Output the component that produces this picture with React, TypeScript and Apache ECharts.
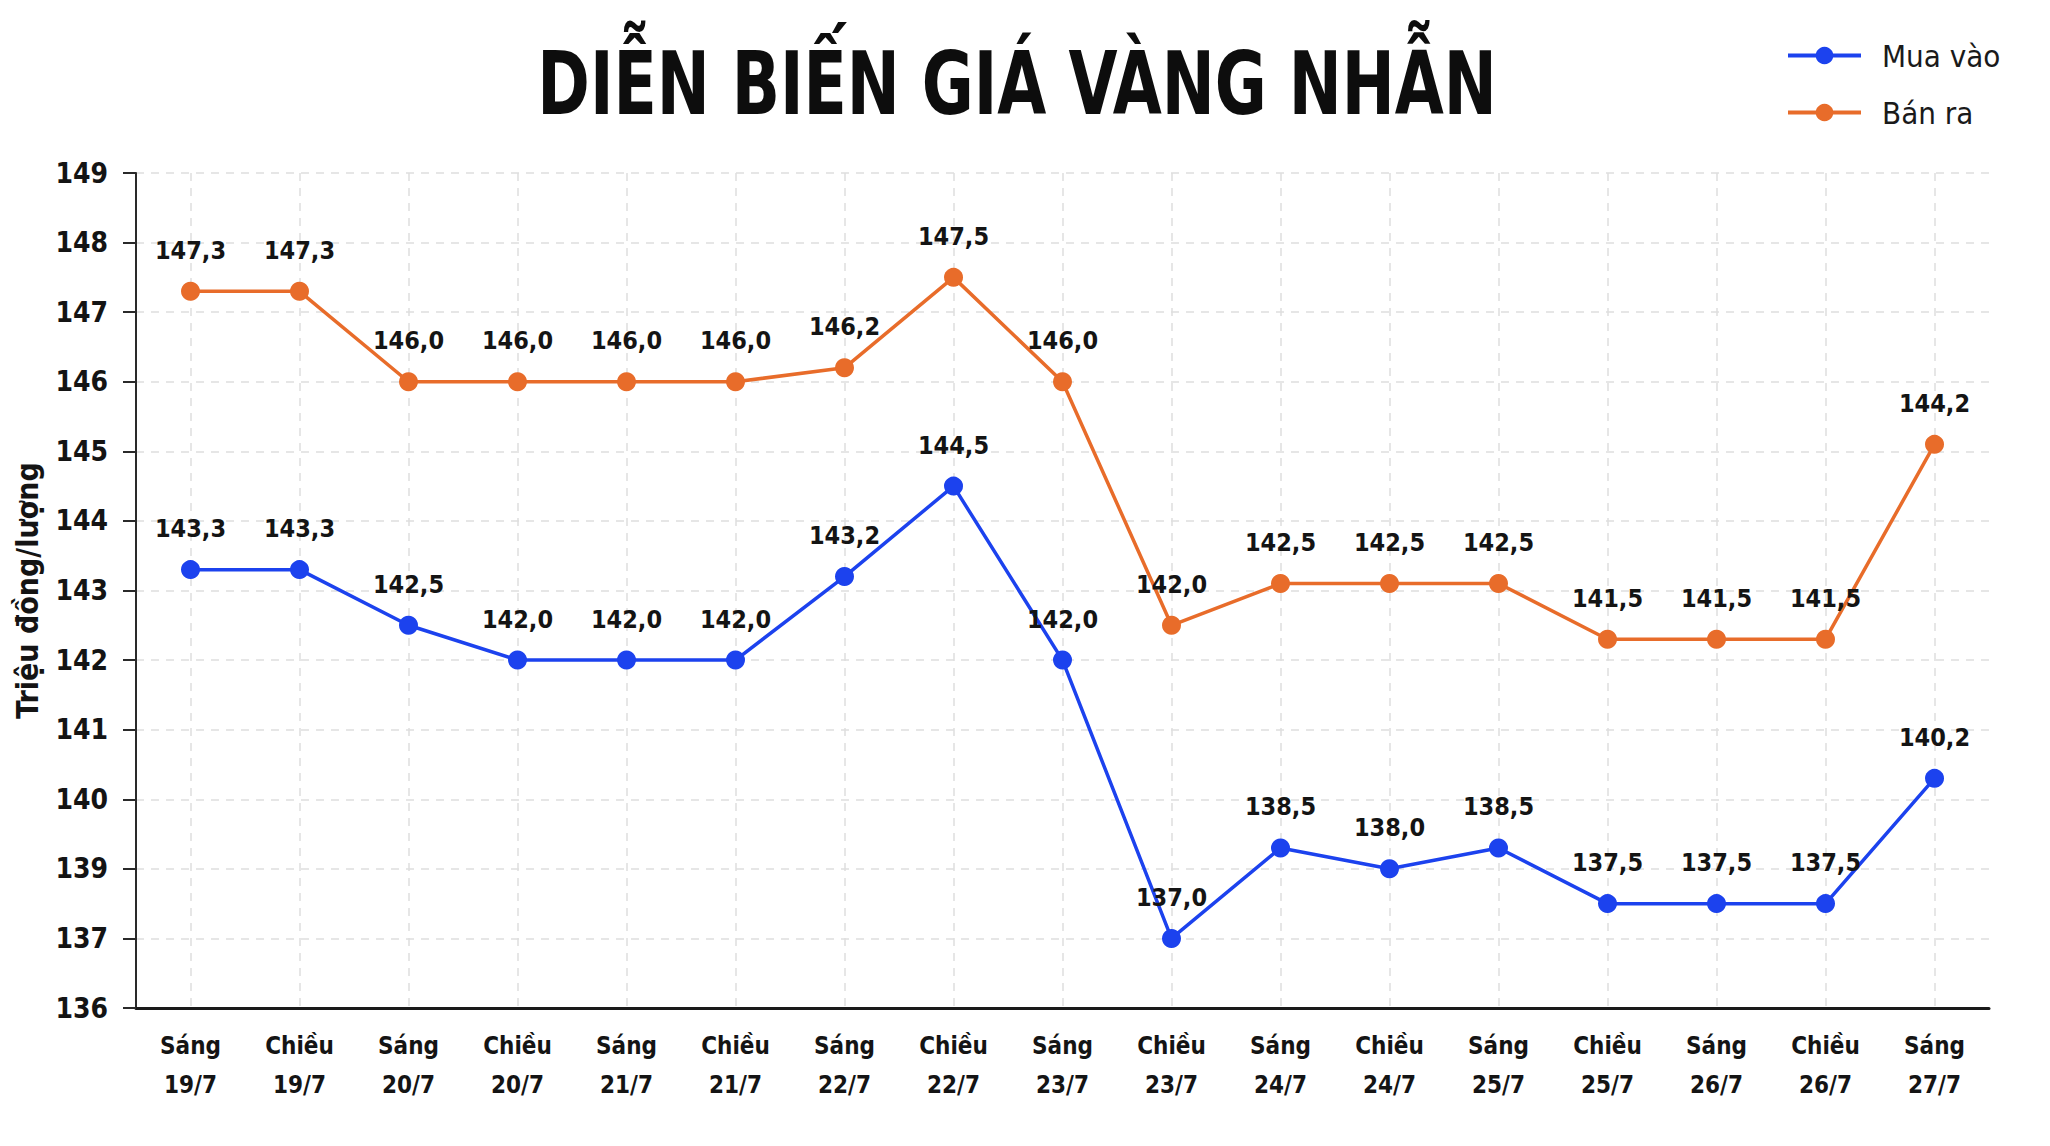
import React, { useEffect, useRef } from "react";
import * as echarts from "echarts";

// ---- Data ----
const categories = [
  "Sáng\n19/7", "Chiều\n19/7", "Sáng\n20/7", "Chiều\n20/7", "Sáng\n21/7", "Chiều\n21/7",
  "Sáng\n22/7", "Chiều\n22/7", "Sáng\n23/7", "Chiều\n23/7", "Sáng\n24/7", "Chiều\n24/7",
  "Sáng\n25/7", "Chiều\n25/7", "Sáng\n26/7", "Chiều\n26/7", "Sáng\n27/7",
];

// Tick labels as printed on the reference's y axis (bottom to top; note it skips 138)
const yTickLabels = ["136", "137", "139", "140", "141", "142", "143", "144", "145", "146", "147", "148", "149"];
const yAxisMin = 137;
const yAxisMax = 149;

// Printed values (data labels)
const muaVaoLabel = [143.3, 143.3, 142.5, 142.0, 142.0, 142.0, 143.2, 144.5, 142.0, 137.0, 138.5, 138.0, 138.5, 137.5, 137.5, 137.5, 140.2];
const banRaLabel = [147.3, 147.3, 146.0, 146.0, 146.0, 146.0, 146.2, 147.5, 146.0, 142.0, 142.5, 142.5, 142.5, 141.5, 141.5, 141.5, 144.2];

// Point heights as read against the y axis of the reference
const muaVaoPlot = [143.3, 143.3, 142.5, 142.0, 142.0, 142.0, 143.2, 144.5, 142.0, 138.0, 139.3, 139.0, 139.3, 138.5, 138.5, 138.5, 140.3];
const banRaPlot = [147.3, 147.3, 146.0, 146.0, 146.0, 146.0, 146.2, 147.5, 146.0, 142.5, 143.1, 143.1, 143.1, 142.3, 142.3, 142.3, 145.1];

const seriesNames = ["Mua vào", "Bán ra"];
const titleText = "DIỄN BIẾN GIÁ VÀNG NHẪN";
const yAxisName = "Triệu đồng/lượng";

const FONT = '"DejaVu Sans Condensed", "Liberation Sans Narrow", "Arial Narrow", sans-serif';
const BLUE = "#1c42ee";
const ORANGE = "#e86c2a";
const INK = "#141414";

const fmt = (v: number) => v.toFixed(1).replace(".", ",");

export default function App() {
  const ref = useRef<HTMLDivElement>(null);

  useEffect(() => {
    if (!ref.current) return;
    const chart = echarts.init(ref.current, null, { renderer: "svg" });

    const labelStyle = (arr: number[]) => ({
      show: true,
      position: "top" as const,
      distance: 19,
      fontFamily: FONT,
      fontWeight: "bold" as const,
      fontSize: 25,
      color: INK,
      formatter: (p: any) => fmt(arr[p.dataIndex]),
    });

    chart.setOption({
      animation: false,
      backgroundColor: "#ffffff",
      graphic: [
        {
          type: "text",
          x: 1017,
          y: 84,
          scaleX: 0.8,
          scaleY: 1,
          style: {
            text: titleText,
            font: `bold 88px ${FONT}`,
            fill: "#0d0d0d",
            textAlign: "center",
            textVerticalAlign: "middle",
          },
        },
      ],
      legend: {
        orient: "vertical",
        left: 1781,
        top: 35,
        itemWidth: 73,
        itemHeight: 22,
        itemGap: 26,
        data: seriesNames,
        lineStyle: { width: 4 },
        textStyle: {
          fontFamily: FONT,
          fontSize: 31,
          color: "#1a1a1a",
          padding: [0, 0, 0, 16],
        },
      },
      grid: {
        left: 136,
        right: 61,
        top: 173,
        bottom: 138,
        containLabel: false,
      },
      xAxis: {
        type: "category",
        data: categories,
        boundaryGap: true,
        axisLine: { show: true, lineStyle: { color: "#1a1a1a", width: 3 } },
        axisTick: { show: false },
        axisLabel: {
          interval: 0,
          margin: 18,
          fontFamily: FONT,
          fontWeight: "bold",
          fontSize: 24,
          lineHeight: 39,
          color: INK,
        },
        splitLine: {
          show: true,
          alignWithLabel: true,
          lineStyle: { color: "#dedede", type: [8, 7], width: 1.5 },
        },
      },
      yAxis: {
        type: "value",
        min: yAxisMin,
        max: yAxisMax,
        interval: 1,
        name: yAxisName,
        nameLocation: "middle",
        nameRotate: 90,
        nameGap: 94,
        nameTextStyle: {
          fontFamily: FONT,
          fontWeight: "bold",
          fontSize: 30,
          color: INK,
        },
        axisLine: { show: true, lineStyle: { color: "#2a2a2a", width: 2 } },
        axisTick: { show: true, length: 13, lineStyle: { color: "#2a2a2a", width: 2 } },
        axisLabel: {
          margin: 28,
          fontFamily: FONT,
          fontWeight: "bold",
          fontSize: 28,
          color: INK,
          formatter: (v: number) => yTickLabels[Math.round(v - yAxisMin)],
        },
        splitLine: {
          show: true,
          lineStyle: { color: "#dedede", type: [8, 7], width: 1.5 },
        },
      },
      series: [
        {
          name: seriesNames[0],
          type: "line",
          data: muaVaoPlot,
          symbol: "circle",
          symbolSize: 19,
          lineStyle: { color: BLUE, width: 3.5 },
          itemStyle: { color: BLUE },
          label: labelStyle(muaVaoLabel),
          z: 3,
        },
        {
          name: seriesNames[1],
          type: "line",
          data: banRaPlot,
          symbol: "circle",
          symbolSize: 19,
          lineStyle: { color: ORANGE, width: 3.5 },
          itemStyle: { color: ORANGE },
          label: labelStyle(banRaLabel),
          z: 3,
        },
      ],
    });

    return () => chart.dispose();
  }, []);

  return (
    <div
      ref={ref}
      style={{ position: "fixed", left: 0, top: 0, width: 2050, height: 1146, background: "#fff" }}
    />
  );
}
